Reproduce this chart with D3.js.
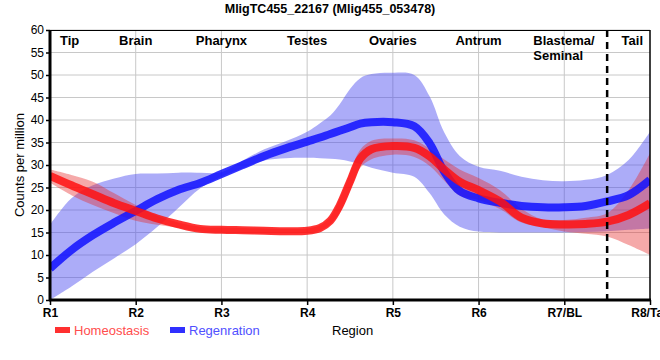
<!DOCTYPE html>
<html><head><meta charset="utf-8">
<script src="https://cdn.jsdelivr.net/npm/d3@7"></script>
<style>body{margin:0;background:#fff}svg{display:block;font-family:"Liberation Sans",Arial,sans-serif}</style>
</head><body><svg id="c" width="660" height="360"></svg>
<script>
const categories = ["R1","R2","R3","R4","R5","R6","R7/BL","R8/Tail"];
const regions = ["Tip","Brain","Pharynx","Testes","Ovaries","Antrum","Blastema/|Seminal","Tail"];
const yTicks = [0,5,10,15,20,25,30,35,40,45,50,55,60];
const pos = [1,1.25,1.5,1.75,2,2.25,2.5,2.75,3,3.25,3.5,3.75,4,4.15,4.27,4.38,4.5,4.62,4.75,5,5.25,5.43,5.6,5.78,6,6.25,6.5,6.75,7,7.25,7.5,7.75,8];
const homeo =   [27.6,25.5,23.5,21.5,19.8,18.1,16.8,15.8,15.6,15.5,15.4,15.3,15.4,16.0,17.6,21.0,26.3,31.4,33.5,34.2,33.8,31.9,29,26.3,24.4,21.9,18.3,17,16.8,16.9,17.4,18.9,21.5];
const homeoHi = [29,27.8,26.3,23.7,21.1,18.7,17.2,16.3,16.1,16,15.9,15.8,15.9,16.6,18.5,22.6,28.3,33.4,35.4,35.9,35.5,33.6,31.2,29,27.1,24.4,20.3,17.9,17.8,18.3,19.3,24.4,32.6];
const homeoLo = [26.1,23.3,21.1,19.3,17.6,16.7,16,15.2,15,14.9,14.8,14.8,14.9,15.4,16.8,19.4,24.3,29.4,31.3,32.3,31.8,29.8,26.5,23.2,22.2,20.2,17.2,16.2,15.2,14.7,14.1,12.2,10];
const regen =   [7,11.1,14.4,17.2,19.8,22.4,24.5,26.0,28,30.0,32.0,33.7,35.2,36.1,36.9,37.6,38.4,39.2,39.5,39.5,38.6,34.8,28.5,24.2,22.6,21.6,20.9,20.6,20.6,20.9,21.9,23.3,26.7];
const regenHi = [16.7,22.6,25.5,27,28,28.1,28.3,28.3,28.4,31,33.5,35.3,37.4,39.3,41,43.5,46.9,49.3,50.2,50.5,50,45.2,37.2,32,29.6,28.7,27.4,26.6,26.4,26.7,27.8,31.1,37.4];
const regenLo = [0,3,6.3,9.3,12.4,16.2,20.5,24.8,27.4,29.3,31,31.5,31.6,31.5,31.4,31.2,30.8,30.2,29.4,28.3,27.4,23.7,19,16.3,15.2,15,15,15,15,15.1,15.3,15.6,15.9];
const divider = 7.5;

const svg = d3.select("#c");
const m = {l:50, r:10, t:30, b:60};
const W = 660, H = 360;
const x = d3.scaleLinear().domain([1,8]).range([m.l, W-m.r]);
const y = d3.scaleLinear().domain([0,60]).range([H-m.b, m.t]);

// grid
svg.append("g").selectAll("line").data(yTicks.slice(1)).join("line")
  .attr("x1",x(1)).attr("x2",x(8)).attr("y1",d=>y(d)).attr("y2",d=>y(d))
  .attr("stroke","#c8c8c8").attr("stroke-width",1);
svg.append("g").selectAll("line").data(d3.range(2,8)).join("line")
  .attr("x1",d=>x(d)).attr("x2",d=>x(d)).attr("y1",y(0)).attr("y2",y(60))
  .attr("stroke","#c8c8c8").attr("stroke-width",1);

const curve = d3.curveCatmullRom.alpha(0.5);
const area = (hi,lo)=>d3.area().x((d,i)=>x(pos[i])).y0((d,i)=>y(lo[i])).y1((d,i)=>y(hi[i])).curve(curve)(pos);
const line = v=>d3.line().x((d,i)=>x(pos[i])).y((d,i)=>y(v[i])).curve(curve)(pos);

svg.append("clipPath").attr("id","pc").append("rect")
  .attr("x",x(1)).attr("y",y(60)).attr("width",x(8)-x(1)).attr("height",y(0)-y(60));
const g = svg.append("g").attr("clip-path","url(#pc)");
g.append("path").attr("d",area(regenHi,regenLo)).attr("fill","rgb(70,70,240)").attr("fill-opacity",0.45);
g.append("path").attr("d",area(homeoHi,homeoLo)).attr("fill","rgb(230,40,40)").attr("fill-opacity",0.4);
g.append("path").attr("d",line(regen)).attr("fill","none").attr("stroke","#1010ff").attr("stroke-opacity",0.85).attr("stroke-width",8);
g.append("path").attr("d",line(homeo)).attr("fill","none").attr("stroke","#ff1010").attr("stroke-opacity",0.85).attr("stroke-width",8);

// divider
svg.append("line").attr("x1",x(divider)).attr("x2",x(divider)).attr("y1",y(60)).attr("y2",y(0))
  .attr("stroke","#000").attr("stroke-width",2.5).attr("stroke-dasharray","7,5");

// frame
svg.append("line").attr("x1",x(1)).attr("x2",x(8)).attr("y1",y(60)+0.5).attr("y2",y(60)+0.5).attr("stroke","#000").attr("stroke-width",1);
svg.append("line").attr("x1",x(8)).attr("x2",x(8)).attr("y1",y(60)).attr("y2",y(0)).attr("stroke","#000").attr("stroke-width",1.5);

// axes
const ya = svg.append("g").attr("transform",`translate(${x(1)},0)`)
  .call(d3.axisLeft(y).tickValues(yTicks).tickSize(4).tickPadding(2));
ya.select(".domain").remove();
ya.selectAll("text").attr("font-size",12).attr("fill","#000").attr("font-family","'Liberation Sans',Arial,sans-serif");
ya.selectAll("line").attr("stroke","#000").attr("stroke-width",1.5);
const xa = svg.append("g").attr("transform",`translate(0,${y(0)})`)
  .call(d3.axisBottom(x).tickValues(d3.range(1,9)).tickFormat((d,i)=>categories[i]).tickSize(5).tickPadding(3));
xa.select(".domain").remove();
xa.selectAll("text").attr("font-size",12).attr("font-weight","bold").attr("fill","#000").attr("font-family","'Liberation Sans',Arial,sans-serif");
xa.selectAll("line").attr("stroke","#000").attr("stroke-width",1.5);
svg.append("line").attr("x1",x(1)).attr("x2",x(1)).attr("y1",y(60)).attr("y2",y(0)+1).attr("stroke","#000").attr("stroke-width",3);
svg.append("line").attr("x1",x(1)-1).attr("x2",x(8)+1).attr("y1",y(0)).attr("y2",y(0)).attr("stroke","#000").attr("stroke-width",3);

// region labels
const rg = svg.append("g").attr("font-size",13).attr("font-weight","bold").attr("fill","#000");
regions.forEach((r,i)=>{
  const lines = r.split("|");
  let anchor="middle", xx = x(i+1);
  if(i===0){anchor="start"; xx = x(1)+10;}
  if(i===6){anchor="start"; xx = x(7)-31;}
  if(i===7){anchor="end"; xx = x(8)-7;}
  lines.forEach((t,j)=>rg.append("text").attr("x",xx).attr("y",y(60)+15+j*15).attr("text-anchor",anchor).text(t));
});

// title
svg.append("text").attr("x",330).attr("y",13).attr("text-anchor","middle").attr("font-size",12.5).attr("font-weight","bold").text("MligTC455_22167 (Mlig455_053478)");
// y title
svg.append("text").attr("transform",`translate(24,${(y(0)+y(60))/2}) rotate(-90)`).attr("text-anchor","middle").attr("font-size",13).text("Counts per million");
// x title
svg.append("text").attr("x",332).attr("y",335).attr("font-size",13).text("Region");
// legend
const leg = [{n:"Homeostasis",c:"#ff3030",t:"#ff4d4d",x:55},{n:"Regenration",c:"#3030ff",t:"#5050ff",x:170}];
leg.forEach(l=>{
  svg.append("rect").attr("x",l.x).attr("y",327).attr("width",15).attr("height",6).attr("fill",l.c);
  svg.append("text").attr("x",l.x+19).attr("y",335).attr("font-size",13).attr("fill",l.t).text(l.n);
});
</script></body></html>
